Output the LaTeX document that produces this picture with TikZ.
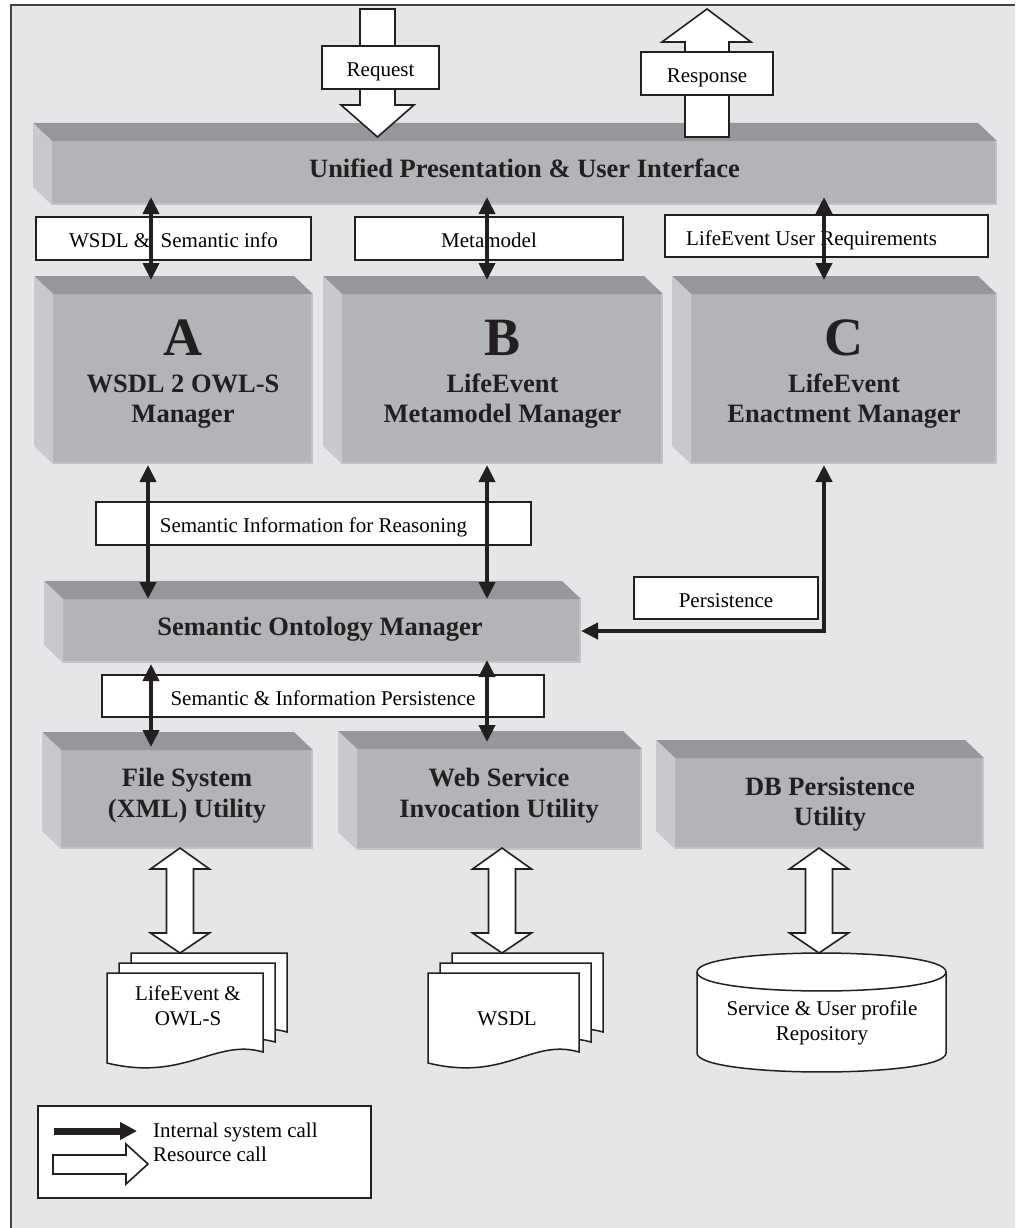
\documentclass[tikz,border=0pt]{standalone}
\usepackage{fontspec}
\setmainfont{Liberation Serif}
\usetikzlibrary{arrows.meta,calc}

\definecolor{panel}{HTML}{E5E6E8}
\definecolor{facefront}{HTML}{B3B4B7}
\definecolor{facetop}{HTML}{96979B}
\definecolor{faceside}{HTML}{C8C9CC}
\definecolor{facerim}{HTML}{C2C3C5}
\definecolor{ink}{HTML}{231F20}

\newcommand\slabfont{\fontsize{26.5}{30}\selectfont\bfseries}
\newcommand\letterfont{\fontsize{54}{60}\selectfont\bfseries}
\newcommand\lblfont{\fontsize{21}{25}\selectfont}

% 3D slab: a front face node plus its top and left faces
\newcommand\slab[5]{%
  \node[front, minimum width={(#4)-(#2)}, minimum height={(#5)-(#3)}]
    (#1) at ({((#2)+(#4))/2},{((#3)+(#5))/2}) {};
  \fill[facetop] (#1.north west) -- ++(-19,-18)
    -- ($(#1.north east)+(-19,-18)$) -- (#1.north east) -- cycle;
  \fill[faceside] (#1.north west) -- ++(-19,-18)
    -- ($(#1.south west)+(-19,-18)$) -- (#1.south west) -- cycle;
  \draw[facerim, line width=2.5pt] ($(#1.south west)+(0,-1.25)$)
    -- ($(#1.south east)+(-1.25,-1.25)$) -- ($(#1.north east)+(-1.25,0)$);
}

% white label box
\newcommand\lblbox[6]{%
  \node[lbl, minimum width={(#4)-(#2)}, minimum height={(#5)-(#3)}]
    (#1) at ({((#2)+(#4))/2},{((#3)+(#5))/2}) {#6};
}

% hollow two-way block arrow: centre x, top tip y, bottom tip y
\newcommand\twoway[3]{%
  \filldraw[hollow] (#1,#2) -- ({#1+29.5},{#2+21}) -- ({#1+13.5},{#2+21})
    -- ({#1+13.5},{#3-20}) -- ({#1+29.5},{#3-20}) -- (#1,#3)
    -- ({#1-29.5},{#3-20}) -- ({#1-13.5},{#3-20}) -- ({#1-13.5},{#2+21})
    -- ({#1-29.5},{#2+21}) -- cycle;
}

% one document sheet with a wavy lower edge: left x, top y, width
\newcommand\sheet[3]{%
  \filldraw[paper] (#1,#2) -- ({#1+#3},#2) -- ({#1+#3},{#2+79})
    .. controls ({#1+#3-48},{#2+65}) and ({#1+78},{#2+109}) .. (#1,{#2+90}) -- cycle;
}

\begin{document}
\begin{tikzpicture}[x=1pt,y=-1pt,
  front/.style={fill=facefront, inner sep=0pt, outer sep=0pt},
  slabtxt/.style={font=\slabfont, text=ink, anchor=base, inner sep=0pt},
  lettertxt/.style={font=\letterfont, text=ink, anchor=base, inner sep=0pt},
  lbl/.style={draw=ink, fill=white, line width=1.8pt, inner sep=0pt,
    font=\lblfont, text height=20pt, text depth=2pt},
  plaintxt/.style={font=\lblfont, anchor=base, inner sep=0pt},
  hollow/.style={fill=white, draw=ink, line width=1.6pt, line join=miter},
  paper/.style={fill=white, draw=ink, line width=1.5pt},
  bustip/.tip={Triangle[length=17pt,width=16pt]},
  bus/.style={draw=ink, line width=4pt, {bustip}-{bustip}},
]
\useasboundingbox (0,0) rectangle (1015,1228);

% panel
\fill[panel] (11,5.5) rectangle (1015,1228);
\draw[ink!85, line width=2pt] (11,1228) -- (11,5.5) -- (1015,5.5);

% columns of the internal calls
\coordinate (c1) at (151,0);
\coordinate (c2) at (487,0);
\coordinate (c3) at (824,0);
\coordinate (c4) at (148,0);

% slabs
\slab{uni}{52}{141}{997}{205}
\slab{A}{53}{294}{313}{464}
\slab{B}{342}{294}{663}{464}
\slab{C}{691}{294}{997}{464}
\slab{som}{63}{599}{581}{663}
\slab{fs}{61}{750}{313}{849}
\slab{ws}{357}{749}{642}{850}
\slab{db}{675}{758}{984}{849}

% slab texts
\node[slabtxt] (unit) at (524.5,177) {Unified Presentation \& User Interface};
\node[lettertxt] (At) at (183,355) {A};
\node[slabtxt] (At1) at (183,392) {WSDL 2 OWL-S};
\node[slabtxt] (At2) at (183,422) {Manager};
\node[lettertxt] (Bt) at (502.5,355) {B};
\node[slabtxt] (Bt1) at (502.5,392) {LifeEvent};
\node[slabtxt] (Bt2) at (502.5,422) {Metamodel Manager};
\node[lettertxt] (Ct) at (844,355) {C};
\node[slabtxt] (Ct1) at (844,392) {LifeEvent};
\node[slabtxt] (Ct2) at (844,422) {Enactment Manager};
\node[slabtxt] (somt) at (320,635) {Semantic Ontology Manager};
\node[slabtxt] (fst1) at (187,786) {File System};
\node[slabtxt] (fst2) at (187,817) {(XML) Utility};
\node[slabtxt] (wst1) at (499,786) {Web Service};
\node[slabtxt] (wst2) at (499,817) {Invocation Utility};
\node[slabtxt] (dbt1) at (830,795) {DB Persistence};
\node[slabtxt] (dbt2) at (830,825) {Utility};

% request / response block arrows
\filldraw[hollow] (360,9) -- (395,9) -- (395,105) -- (414,105) -- (377.5,137)
  -- (341,105) -- (360,105) -- cycle;
\filldraw[hollow] (707,9) -- (751,42) -- (729,42) -- (729,137) -- (685,137)
  -- (685,42) -- (662,42) -- cycle;

% labels
\lblbox{req}{322}{46}{439}{89}{Request}
\lblbox{resp}{641}{52}{773}{95}{Response}
\lblbox{wsdlinfo}{36}{217}{311}{260}{WSDL \&\ \ Semantic info}
\lblbox{meta}{355}{217}{623}{260}{Metamodel}
\lblbox{lereq}{665}{215}{988}{257}{}
\node[plaintxt, anchor=base west] (lereqt) at (686,245.5) {LifeEvent User Requirements};
\lblbox{reason}{96}{502}{531}{545}{Semantic Information for Reasoning}
\lblbox{persist}{634}{577}{818}{619}{Persistence}
\lblbox{semper}{102}{675}{544}{717}{Semantic \& Information Persistence}

% internal system calls
\draw[bus] ($(uni.south-|c1)+(0,-8)$) -- ($(A.north-|c1)+(0,-14)$);
\draw[bus] ($(uni.south-|c2)+(0,-8)$) -- ($(B.north-|c2)+(0,-14)$);
\draw[bus] ($(uni.south-|c3)+(0,-8)$) -- ($(C.north-|c3)+(0,-14)$);
\draw[bus] ($(A.south-|c4)+(0,1)$) -- (som.north-|c4);
\draw[bus] ($(B.south-|c2)+(0,1)$) -- (som.north-|c2);
\draw[bus, line width=4.5pt] ($(C.south-|c3)+(0,1)$) |- (som.east);
\draw[bus] ($(som.south-|c1)+(0,1)$) -- ($(fs.north-|c1)+(0,-3)$);
\draw[bus] ($(som.south-|c2)+(0,-3)$) -- ($(ws.north-|c2)+(0,-7)$);

% resource calls
\twoway{180}{848}{953}
\twoway{502}{848}{953}
\twoway{819}{848}{953}

% document stacks
\sheet{131}{953}{156}
\sheet{119}{963}{156}
\sheet{107}{973}{156}
\node[plaintxt] (doc1a) at (188,1000) {LifeEvent \&};
\node[plaintxt] (doc1b) at (188,1025) {OWL-S};

\sheet{452}{953}{151}
\sheet{440}{963}{151}
\sheet{428}{973}{151}
\node[plaintxt] (doc2) at (507,1025) {WSDL};

% repository cylinder
\filldraw[paper] (697,972) -- (697,1053) .. controls (697,1078.3) and (946,1078.3) .. (946,1053)
  -- (946,972) .. controls (946,946.7) and (697,946.7) .. (697,972) -- cycle;
\draw[ink, line width=1.5pt] (697,972) .. controls (697,997.3) and (946,997.3) .. (946,972);
\node[plaintxt] (repo1) at (822,1015) {Service \& User profile};
\node[plaintxt] (repo2) at (822,1040) {Repository};

% legend
\node[draw=ink, fill=white, line width=1.8pt, minimum width=333pt, minimum height=92pt,
  inner sep=0pt] (legend) at (204.5,1152) {};
\coordinate (k1) at (54,1131);
\coordinate (k2) at (137,1131);
\draw[ink, line width=7pt, -{Triangle[length=17pt,width=17pt]}] (k1) -- (k2);
\filldraw[hollow] (53,1155) -- (126,1155) -- (126,1144) -- (148,1164) -- (126,1184)
  -- (126,1174) -- (53,1174) -- cycle;
\node[plaintxt, anchor=base west] (key1) at (153,1137) {Internal system call};
\node[plaintxt, anchor=base west] (key2) at (153,1161) {Resource call};
\end{tikzpicture}
\end{document}
